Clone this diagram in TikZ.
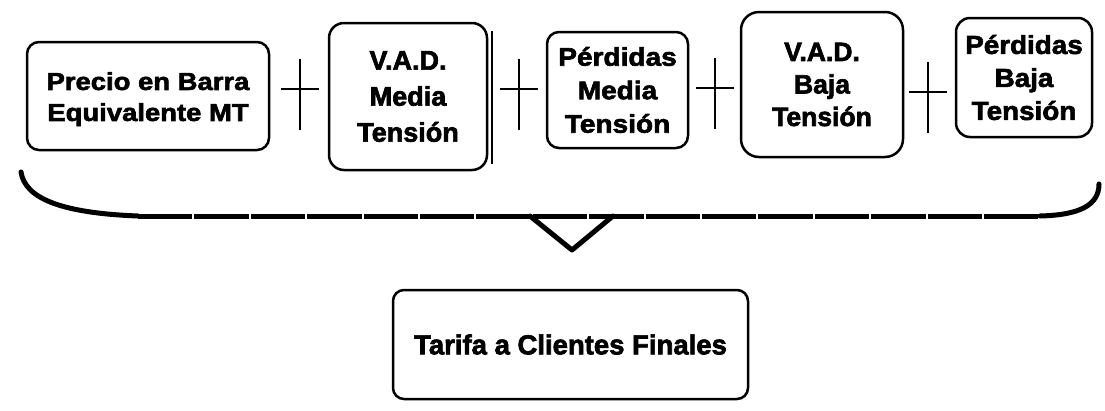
\documentclass[tikz,border=0pt]{standalone}
\usepackage{fontspec}
\setmainfont{Liberation Sans}[BoldFeatures={FakeBold=2.4}]
\newcommand{\boxfont}[3]{\bfseries\fontsize{#1}{#2}\selectfont\addfontfeatures{FakeStretch=#3}}
\begin{document}
\begin{tikzpicture}[x=1pt,y=-1pt,
  box/.style={draw=black,line width=2.5pt,rounded corners=12pt,align=center,inner sep=0pt},
  plusline/.style={line width=2.2pt},
  bracel/.style={line width=5pt,line cap=round,line join=round}]
\useasboundingbox[fill=white] (0,0) rectangle (1105,410);
\node[box,minimum width=242pt,minimum height=108pt,font=\boxfont{24.5}{31}{1.12}] (b1) at (148,96) {\rule{0pt}{24pt}Precio en Barra\\Equivalente MT};
\node[box,minimum width=158pt,minimum height=147pt,rounded corners=15pt,font=\boxfont{27}{36}{1.0}] (b2) at (408,96.5) {V.A.D.\\Media\\Tensión};
\node[box,minimum width=141pt,minimum height=116pt,font=\boxfont{25.5}{33.5}{1.1}] (b3) at (617.5,90) {Pérdidas\\Media\\Tensión};
\node[box,minimum width=162pt,minimum height=145pt,rounded corners=18pt,font=\boxfont{26.5}{32.5}{1.0}] (b4) at (822,84.5) {V.A.D.\\Baja\\Tensión};
\node[box,minimum width=136pt,minimum height=119pt,rounded corners=14pt,font=\boxfont{26}{33}{1.07}] (b5) at (1024,77.5) {Pérdidas\\Baja\\Tensión};
\node[box,minimum width=355pt,minimum height=109pt,rounded corners=11pt,font=\boxfont{27.5}{33}{1.0}] (t) at (570.5,344.5) {Tarifa a Clientes Finales};
% doubled right edge of the second box
\draw[line width=1.8pt] ([xshift=4pt,yshift=-9pt]b2.north east) -- ([xshift=4pt,yshift=7pt]b2.south east);
% plus signs
\coordinate (p1) at (300,89);
\coordinate (p2) at (519,89);
\coordinate (p3) at (715,88);
\coordinate (p4) at (928,92);
\foreach \p in {p1,p2,p3,p4}{
  \draw[plusline] (\p) ++(-19,0) -- ++(38,0);
  \draw[plusline] (\p) ++(0,-30) -- ++(0,71);
}
% brace
\coordinate (bl) at (21,172);
\coordinate (bh1) at (138,216);
\coordinate (bh2) at (1040,216);
\coordinate (br) at (1099,184);
\coordinate (tl) at (530,216);
\coordinate (tp) at (572,250);
\coordinate (tr) at (613,216);
\draw[bracel] (bl) .. controls (25,198) and (60,213) .. (bh1);
\draw[line width=5pt,dash pattern=on 54.4pt off 2pt] (bh1) -- (bh2);
\draw[bracel] (bh2) .. controls (1080,215) and (1099,205) .. (br);
\draw[bracel] (tl) -- (tp) -- (tr);
\end{tikzpicture}
\end{document}
